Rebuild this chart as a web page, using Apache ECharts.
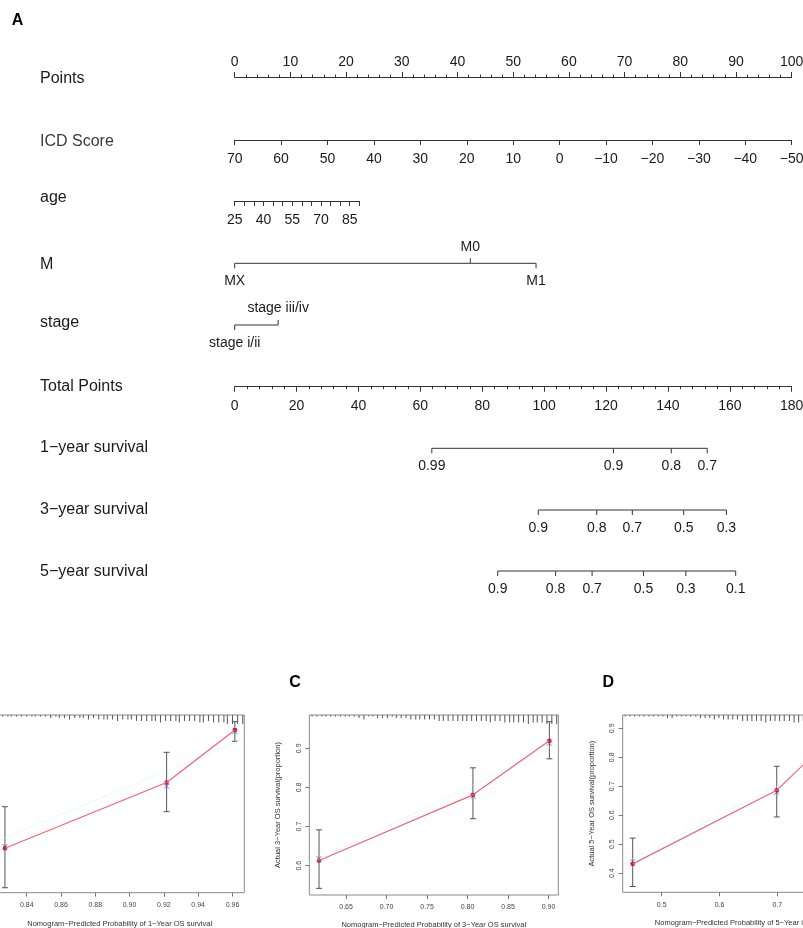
<!DOCTYPE html>
<html><head><meta charset="utf-8">
<script src="https://cdn.jsdelivr.net/npm/echarts@6/dist/echarts.min.js"></script>
<style>html,body{margin:0;padding:0;background:#fff}#c{width:803px;height:928px}</style>
</head><body><div id="c"></div>
<script>
// ===== Nomogram data =====
const rowLabels = ['Points','ICD Score','age','M','stage','Total Points','1\u2212year survival','3\u2212year survival','5\u2212year survival'];
const pointsRange = [0, 100];
const icdRange = [-50, 70];
const ageRange = [25, 90];
const ageLabelValues = [25, 40, 55, 70, 85];
const totalRange = [0, 180];
const mLabels = ['MX', 'M0', 'M1'];
const mPoints = [0, 42.3, 54.1];
const stageLabels = ['stage i/ii', 'stage iii/iv'];
const stagePoints = [0, 7.8];
const surv1Labels = ['0.99', '0.9', '0.8', '0.7'];
const surv1Total = [63.7, 122.4, 141.1, 152.7];
const surv3Labels = ['0.9', '0.8', '0.7', '0.5', '0.3'];
const surv3Total = [98.1, 117.0, 128.5, 145.1, 158.9];
const surv5Labels = ['0.9', '0.8', '0.7', '0.5', '0.3', '0.1'];
const surv5Total = [85.0, 103.7, 115.5, 132.1, 145.8, 161.9];

// ===== Calibration data =====
const calB_pred = [0.8273, 0.9216, 0.9614];
const calB_obs = [0.8125, 0.905, 0.979];
const calB_corr = [0.815, 0.900, 0.9765];
const calB_lo = [0.757, 0.864, 0.963];
const calB_hi = [0.871, 0.9475, 0.9906];
const calB_xTicks = [0.84, 0.86, 0.88, 0.90, 0.92, 0.94, 0.96];
const calB_yTicks = [0.80, 0.85, 0.90, 0.95];
const calB_rugX = [0.823,0.826,0.829,0.831,0.834,0.837,0.840,0.843,0.845,0.848,0.851,
  0.854,0.857,0.859,0.862,0.865,0.868,0.871,0.873,0.876,0.879,0.882,
  0.885,0.887,0.890,0.893,0.896,0.899,0.901,0.904,
  0.907,0.910,0.913,0.915,0.918,0.921,0.924,0.927,0.929,0.932,0.935,0.938,
  0.941,0.943,0.946,0.949,0.952,0.955,0.957,
  0.960,0.963,0.966];
const calB_rugH = [1,1,1,1,1,1,1,1,1,1,1,
  2,1,2,2,3,2,2,2,3,2,3,
  3,3,3,4,3,3,3,4,
  4,4,4,4,5,4,4,4,5,4,4,4,
  5,5,4,5,5,5,6,
  6,6,6];

const calC_pred = [0.6166, 0.8066, 0.901];
const calC_obs = [0.613, 0.781, 0.919];
const calC_corr = [0.618, 0.777, 0.913];
const calC_lo = [0.542, 0.72, 0.873];
const calC_hi = [0.6915, 0.85, 0.968];
const calC_xTicks = [0.65, 0.70, 0.75, 0.80, 0.85, 0.90];
const calC_yTicks = [0.6, 0.7, 0.8, 0.9];
const calC_rugX = [0.608,0.614,0.620,0.625,0.631,0.637,0.643,0.649,0.654,
  0.660,0.666,0.672,0.678,0.683,0.689,0.695,0.701,0.707,0.712,0.718,0.724,
  0.730,0.736,0.741,0.747,0.753,0.759,0.765,
  0.770,0.776,0.782,0.788,0.794,0.799,0.805,0.811,0.817,0.823,0.828,0.834,0.840,
  0.846,0.852,0.857,0.863,0.869,0.875,0.881,0.886,0.892,0.898,0.904,0.910];
const calC_rugH = [1,1,1,1,1,1,1,1,1,
  1,2,3,1,1,2,2,2,1,2,2,2,
  3,3,3,3,3,3,4,
  4,4,4,4,4,4,4,4,4,4,5,4,4,
  5,5,5,5,5,6,5,5,5,6,6,6];

const calD_pred = [0.4498, 0.699, 0.80];
const calD_obs = [0.432, 0.686, 0.88];
const calD_corr = [0.44, 0.679, 0.87];
const calD_lo = [0.354, 0.594, 0.80];
const calD_hi = [0.521, 0.769, 0.94];
const calD_xTicks = [0.5, 0.6, 0.7, 0.8];
const calD_yTicks = [0.4, 0.5, 0.6, 0.7, 0.8, 0.9];
const calD_rugX = [0.437,0.445,0.453,0.461,0.469,0.478,0.486,0.494,0.502,0.510,0.518,0.526,0.534,0.542,0.550,0.559,
  0.567,0.575,0.583,0.591,0.599,0.607,0.615,0.623,0.631,
  0.640,0.648,0.656,0.664,0.672,0.680,0.688,0.696,0.704,0.712,0.721,0.729,0.737,0.745,
  0.753,0.761,0.769,0.777,0.785,0.793,0.801,0.810,0.818,0.826,0.834,0.842,0.850,0.858];
const calD_rugH = [1,1,1,1,1,1,1,1,1,2,2,1,1,1,1,1,
  2,2,2,3,2,3,3,3,3,
  4,4,4,4,4,5,4,4,4,4,4,5,5,4,
  5,5,5,5,5,5,5,5,5,5,5,5,5,5];

// ===== Styling / layout =====
const FONT = '"Liberation Sans", Arial, Helvetica, sans-serif';
const INK = '#333';
const TXT = '#1a1a1a';
const NL = 234.7, NR = 803 - 791.7;

const grids = [], xAxes = [], yAxes = [], series = [];
function addGrid(g) {
  grids.push(Object.assign({ show: false, containLabel: false, outerBoundsMode: 'none' }, g));
  return grids.length - 1;
}
function hiddenY(i) { yAxes.push({ gridIndex: i, type: 'value', min: 0, max: 1, show: false }); }

const nomoTick = { show: true, length: 5, lineStyle: { color: INK, width: 1 } };
const nomoLabel = { fontSize: 14, fontFamily: FONT, color: TXT };

// Points row: axis line at grid bottom, ticks and labels pointing up
let g = addGrid({ left: NL, right: NR, top: 67, height: 10 });
xAxes.push({ gridIndex: g, type: 'value', position: 'bottom', min: pointsRange[0], max: pointsRange[1], interval: 10,
  axisLine: { show: true, lineStyle: { color: INK, width: 1 } },
  axisTick: Object.assign({ inside: true }, nomoTick),
  minorTick: { show: true, splitNumber: 5, length: 2.5, lineStyle: { color: INK, width: 1 } },
  splitLine: { show: false }, minorSplitLine: { show: false },
  axisLabel: Object.assign({ inside: true, margin: 7.5 }, nomoLabel) });
hiddenY(g);

// ICD Score row
g = addGrid({ left: NL, right: NR, top: 130, height: 10 });
xAxes.push({ gridIndex: g, type: 'value', position: 'bottom', inverse: true, min: icdRange[0], max: icdRange[1], interval: 10,
  axisLine: { show: true, lineStyle: { color: INK, width: 1 } }, axisTick: nomoTick, splitLine: { show: false },
  axisLabel: Object.assign({ margin: 12, formatter: v => String(v).replace('-', '\u2212') }, nomoLabel) });
hiddenY(g);

// age row
g = addGrid({ left: NL, right: 803 - 359.3, top: 191, height: 10 });
xAxes.push({ gridIndex: g, type: 'value', position: 'bottom', min: ageRange[0], max: ageRange[1], interval: 5,
  axisLine: { show: true, lineStyle: { color: INK, width: 1 } }, axisTick: nomoTick, splitLine: { show: false },
  axisLabel: Object.assign({ margin: 12.5, customValues: ageLabelValues }, nomoLabel) });
hiddenY(g);

function catRow(top, range, pts, labels, above) {
  const gi = addGrid({ left: NL, right: NR, top: top - 10, height: 10 });
  xAxes.push({ gridIndex: gi, type: 'value', min: range[0], max: range[1], show: false });
  hiddenY(gi);
  series.push({ type: 'line', xAxisIndex: gi, yAxisIndex: gi, data: pts.map(p => [p, 0]), symbol: 'none',
    lineStyle: { color: INK, width: 1 }, clip: false, silent: true, animation: false });
  series.push({ type: 'custom', xAxisIndex: gi, yAxisIndex: gi, clip: false, silent: true, animation: false,
    data: pts.map(p => [p, 0]),
    renderItem: (params, api) => {
      const c = api.coord([api.value(0), 0]);
      const name = labels[params.dataIndex];
      const up = above.indexOf(name) >= 0;
      const d = up ? -1 : 1;
      return { type: 'group', children: [
        { type: 'line', shape: { x1: c[0], y1: c[1], x2: c[0], y2: c[1] + d * 5 }, style: { stroke: INK, lineWidth: 1 } },
        { type: 'text', x: c[0], y: c[1] + (up ? -16.5 : 18),
          style: { text: name, fontSize: 14, fontFamily: FONT, fill: TXT, align: 'center', verticalAlign: 'middle' } }
      ] };
    } });
}
catRow(263.3, pointsRange, mPoints, mLabels, ['M0']);
catRow(325, pointsRange, stagePoints, stageLabels, ['stage iii/iv']);

// Total points row
g = addGrid({ left: NL, right: NR, top: 376.7, height: 10 });
xAxes.push({ gridIndex: g, type: 'value', position: 'bottom', min: totalRange[0], max: totalRange[1], interval: 20,
  axisLine: { show: true, lineStyle: { color: INK, width: 1 } }, axisTick: nomoTick,
  minorTick: { show: true, splitNumber: 5, length: 2.5, lineStyle: { color: INK, width: 1 } },
  splitLine: { show: false }, minorSplitLine: { show: false },
  axisLabel: Object.assign({ margin: 12 }, nomoLabel) });
hiddenY(g);

catRow(448.3, totalRange, surv1Total, surv1Labels, []);
catRow(510, totalRange, surv3Total, surv3Labels, []);
catRow(571, totalRange, surv5Total, surv5Labels, []);

// ===== Calibration panels =====
function calPanel(box, xr, yr, xTicks, yTicks, xDec, yDec, xName, yName, pred, obs, corr, lo, hi, rugX, rugH) {
  const gi = addGrid({ left: box.left, right: box.right, top: box.top, height: box.height, show: true,
    borderColor: '#8a8a8a', borderWidth: 1, backgroundColor: 'transparent' });
  const tick = { show: true, length: 4, lineStyle: { color: '#777', width: 1 } };
  xAxes.push({ gridIndex: gi, type: 'value', position: 'bottom', min: xr[0], max: xr[1],
    axisLine: { show: false }, splitLine: { show: false },
    axisTick: Object.assign({ customValues: xTicks }, tick),
    axisLabel: { customValues: xTicks, formatter: v => v.toFixed(xDec), fontSize: 7, fontFamily: FONT, color: '#444', margin: 9 },
    name: xName, nameLocation: 'middle', nameGap: box.xNameGap, nameTextStyle: { fontSize: 7.5, fontFamily: FONT, color: '#333' } });
  yAxes.push({ gridIndex: gi, type: 'value', position: 'left', min: yr[0], max: yr[1],
    axisLine: { show: false }, splitLine: { show: false },
    axisTick: Object.assign({ customValues: yTicks }, tick),
    axisLabel: { customValues: yTicks, formatter: v => v.toFixed(yDec), rotate: 90, fontSize: 7, fontFamily: FONT, color: '#444', margin: 7 },
    name: yName, nameLocation: 'middle', nameRotate: 90, nameGap: 27, nameTextStyle: { fontSize: 7.5, fontFamily: FONT, color: '#333' } });
  // rug (distribution of predictions)
  series.push({ type: 'custom', xAxisIndex: gi, yAxisIndex: gi, silent: true, animation: false,
    data: rugX.map((x, i) => [x, rugH[i]]),
    renderItem: (params, api) => {
      const c = api.coord([api.value(0), yr[1]]);
      return { type: 'line', shape: { x1: c[0], y1: c[1], x2: c[0], y2: c[1] + api.value(1) * 1.5 }, style: { stroke: '#555', lineWidth: 1 } };
    } });
  // ideal line
  series.push({ type: 'line', xAxisIndex: gi, yAxisIndex: gi, data: [[xr[0], xr[0]], [xr[1], xr[1]]], symbol: 'none',
    lineStyle: { color: '#d3f1f7', width: 1, type: 'dotted' }, silent: true, animation: false });
  // error bars
  series.push({ type: 'custom', xAxisIndex: gi, yAxisIndex: gi, silent: true, animation: false,
    data: pred.map((x, i) => [x, lo[i], hi[i]]),
    renderItem: (params, api) => {
      const a = api.coord([api.value(0), api.value(1)]);
      const b = api.coord([api.value(0), api.value(2)]);
      const st = { stroke: '#555', lineWidth: 1 };
      return { type: 'group', children: [
        { type: 'line', shape: { x1: a[0], y1: a[1], x2: b[0], y2: b[1] }, style: st },
        { type: 'line', shape: { x1: a[0] - 3, y1: a[1], x2: a[0] + 3, y2: a[1] }, style: st },
        { type: 'line', shape: { x1: b[0] - 3, y1: b[1], x2: b[0] + 3, y2: b[1] }, style: st }
      ] };
    } });
  // red line
  series.push({ type: 'line', xAxisIndex: gi, yAxisIndex: gi, data: pred.map((x, i) => [x, obs[i]]), symbol: 'none',
    lineStyle: { color: '#ee6673', width: 1.2 }, silent: true, animation: false });
  // bias-corrected (blue x)
  series.push({ type: 'scatter', xAxisIndex: gi, yAxisIndex: gi, data: pred.map((x, i) => [x, corr[i]]),
    symbol: 'path://M0,0L10,10M10,0L0,10', symbolSize: 5,
    itemStyle: { color: 'none', borderColor: '#5a5ad6', borderWidth: 1 }, silent: true, animation: false });
  // observed (red squares)
  series.push({ type: 'scatter', xAxisIndex: gi, yAxisIndex: gi, data: pred.map((x, i) => [x, obs[i]]),
    symbol: 'rect', symbolSize: 4, itemStyle: { color: '#c0001e' }, silent: true, animation: false });
}

calPanel({ left: -5, right: 803 - 244.3, top: 715, height: 177.7, xNameGap: 27 }, [0.8215, 0.9669], [0.75, 1.0],
  calB_xTicks, calB_yTicks, 2, 2, 'Nomogram\u2212Predicted Probability of 1\u2212Year OS survival', 'Actual 1\u2212Year OS survival(proportion)',
  calB_pred, calB_obs, calB_corr, calB_lo, calB_hi, calB_rugX, calB_rugH);
calPanel({ left: 309.3, right: 803 - 558.3, top: 715, height: 180, xNameGap: 26 }, [0.6046, 0.912], [0.525, 0.985],
  calC_xTicks, calC_yTicks, 2, 1, 'Nomogram\u2212Predicted Probability of 3\u2212Year OS survival', 'Actual 3\u2212Year OS survival(proportion)',
  calC_pred, calC_obs, calC_corr, calC_lo, calC_hi, calC_rugX, calC_rugH);
calPanel({ left: 622.7, right: 803 - 871.7, top: 715, height: 177.3, xNameGap: 27 }, [0.4325, 0.8633], [0.334, 0.946],
  calD_xTicks, calD_yTicks, 1, 1, 'Nomogram\u2212Predicted Probability of 5\u2212Year OS survival', 'Actual 5\u2212Year OS survival(proportion)',
  calD_pred, calD_obs, calD_corr, calD_lo, calD_hi, calD_rugX, calD_rugH);

// ===== Text =====
const rowBaselineY = [78.4, 141.7, 197.7, 264.4, 322.7, 386.7, 447.7, 509.4, 571.1];
const graphics = rowLabels.map((t, i) => ({ type: 'text', x: 40, y: rowBaselineY[i], silent: true,
  style: { text: t, fontSize: 16, fontFamily: FONT, fill: i === 1 ? '#3a3a3a' : TXT, verticalAlign: 'middle', align: 'left' } }));
[['A', 17.5, 20.7], ['C', 295, 682.7], ['D', 608.3, 682.7]].forEach(p => graphics.push({ type: 'text', x: p[1], y: p[2], silent: true,
  style: { text: p[0], fontSize: 16, fontWeight: 'bold', fontFamily: FONT, fill: '#000', align: 'center', verticalAlign: 'middle' } }));

const chart = echarts.init(document.getElementById('c'), null, { renderer: 'canvas' });
chart.setOption({
  animation: false,
  backgroundColor: '#fff',
  grid: grids, xAxis: xAxes, yAxis: yAxes, series: series, graphic: graphics
});
</script>
</body></html>
